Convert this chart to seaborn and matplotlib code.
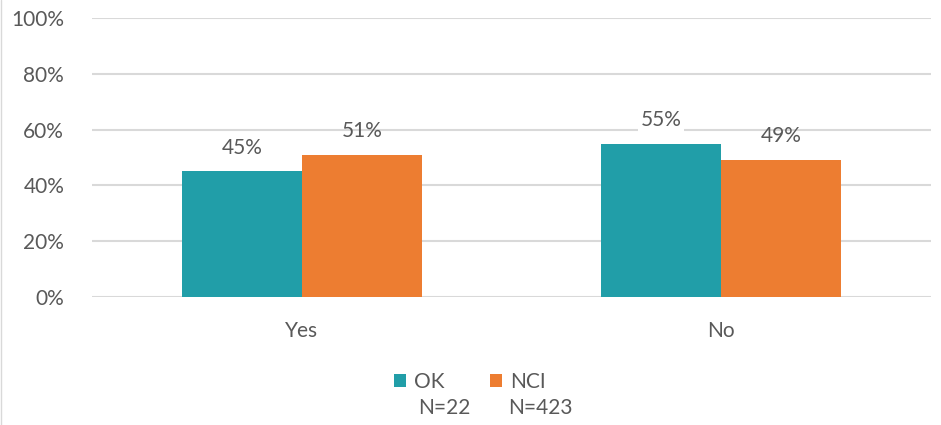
import pandas as pd
import matplotlib.pyplot as plt
import seaborn as sns

# valores
respostas = ['Yes', 'No']
ok_vals = [0.45, 0.55]
nci_vals = [0.51, 0.49]
grupos = ['OK', 'NCI']
tamanhos = ['N=22', 'N=423']
cores = ['#219EA8', '#ED7D31']

df = pd.DataFrame({
    'Resposta': respostas * 2,
    'Grupo': [grupos[0]] * len(respostas) + [grupos[1]] * len(respostas),
    'Valor': ok_vals + nci_vals,
})

sns.set_theme(style='white')
plt.rcParams['font.family'] = ['Lato', 'DejaVu Sans']
cinza = '#595959'

fig = plt.figure(figsize=(9.41, 4.25), dpi=100)
ax = fig.add_axes([92 / 941, 1 - 297 / 425, 839 / 941, 279 / 425])

sns.barplot(data=df, x='Resposta', y='Valor', hue='Grupo', palette=cores,
            width=0.572, saturation=1, linewidth=0, ax=ax, legend=True)

ax.set_ylim(0, 1)
ax.set_xlim(-0.5, 1.5)
ax.set_yticks([0, 0.2, 0.4, 0.6, 0.8, 1.0])
ax.set_yticklabels([f'{int(v * 100)}%' for v in ax.get_yticks()])
ax.yaxis.grid(True, color='#D9D9D9', linewidth=1.5)
ax.set_axisbelow(True)
for s in ax.spines.values():
    s.set_visible(False)
ax.set_xlabel('')
ax.set_ylabel('')
ax.tick_params(axis='y', labelsize=15, labelcolor=cinza, pad=20, length=0)
ax.tick_params(axis='x', labelsize=15, labelcolor=cinza, pad=17, length=0)

# rótulos das barras
for i, cont in enumerate(ax.containers):
    kw = {}
    if i == 0:
        kw['bbox'] = dict(facecolor='white', edgecolor='none', pad=2)
    ax.bar_label(cont, labels=[f'{v * 100:.0f}%' for v in cont.datavalues],
                 padding=10, fontsize=15, color=cinza, **kw)

# legenda com o N embaixo
handles, labels = ax.get_legend_handles_labels()
ax.get_legend().remove()
leg = fig.legend(handles, labels, loc='center', bbox_to_anchor=(470 / 941, 1 - 382 / 425),
                 ncol=2, frameon=False, fontsize=15, handlelength=0.55, handleheight=0.55,
                 handletextpad=0.4, columnspacing=2.2, labelcolor=cinza)
for x, t in zip([418, 508], tamanhos):
    fig.text(x / 941, 1 - 408 / 425, t, fontsize=15, color=cinza, va='center', ha='left')

fig.add_artist(plt.Line2D([0.5 / 941, 0.5 / 941], [0, 1], color='#D9D9D9', linewidth=1))

plt.savefig('out.png', dpi=100)
